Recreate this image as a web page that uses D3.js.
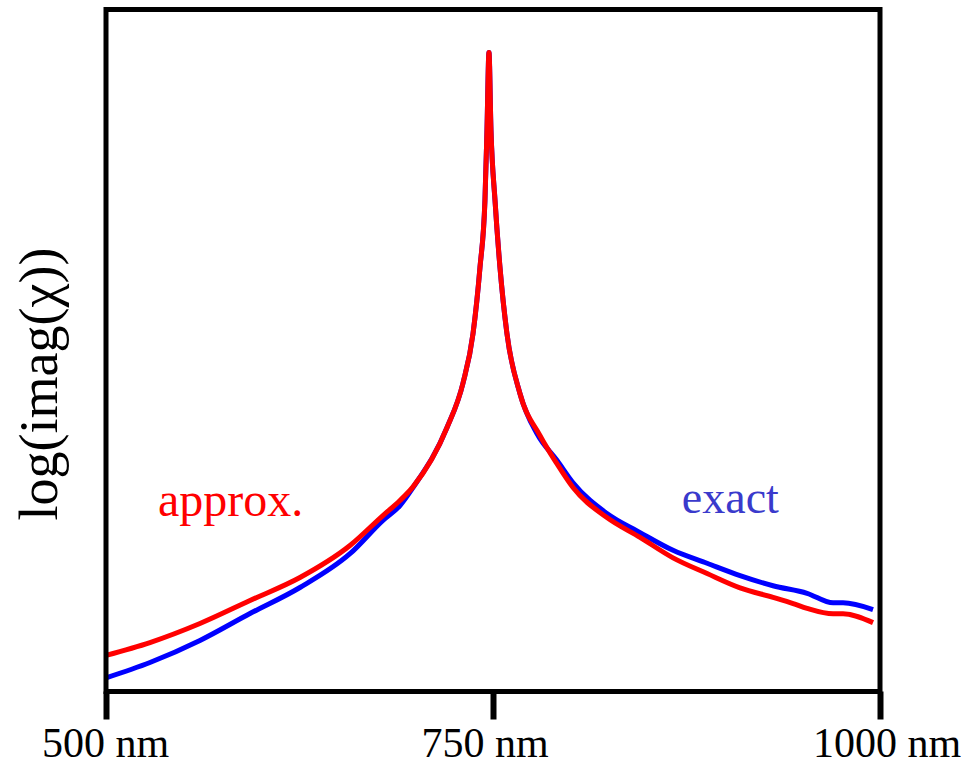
<!DOCTYPE html>
<html>
<head>
<meta charset="utf-8">
<script src="https://cdn.jsdelivr.net/npm/d3@7"></script>
<style>
  body { margin: 0; background: #fff; }
  svg { display: block; font-family: "Liberation Serif", "DejaVu Serif", serif; }
</style>
</head>
<body>
<svg id="chart"></svg>
<script>
// wavelength (nm) and log(imag(chi)) in arbitrary units
const exactX = [500, 528.4, 560.7, 593.0, 625.3, 657.6, 678.9, 689.9, 698.3, 720.3, 730.6, 737.1, 741.6, 744.8, 746.1, 747.4,
                748.7, 751.3, 754.5, 759.0, 767.4, 778.4, 791.3, 801.7, 823.6, 845.0, 866.3, 888.3, 909.6, 930.9, 952.9, 969.7, 976.1, 995.5];
const exactY = [2.0, 4.25, 7.48, 11.43, 15.25, 20.2, 25.1, 27.27, 29.9, 38.7, 45.2, 52.5, 62.2, 72.0, 82.3, 93.7,
                82.3, 72.0, 62.2, 52.5, 43.7, 37.8, 33.9, 30.6, 26.1, 23.3, 20.7, 18.8, 17.0, 15.5, 14.4, 13.0, 13.0, 12.0];

const approxX = [500, 528.4, 560.7, 593.0, 625.3, 657.6, 678.9, 689.9, 698.3, 720.3, 730.6, 737.1, 741.6, 744.8, 746.1, 747.4,
                 748.7, 751.3, 754.5, 759.0, 767.4, 780.4, 791.3, 801.7, 823.6, 845.0, 866.3, 888.3, 909.6, 930.9, 943.9, 952.9, 969.7, 976.1, 995.5];
const approxY = [5.3, 7.18, 9.97, 13.34, 16.71, 21.4, 25.8, 28.0, 30.0, 38.7, 45.2, 52.5, 62.2, 72.0, 82.3, 93.7,
                 82.3, 72.0, 62.2, 52.5, 43.7, 37.5, 33.4, 29.9, 25.5, 22.6, 19.6, 17.3, 15.2, 13.8, 12.9, 12.2, 11.4, 11.4, 10.1];

const tickValues = [500, 750, 1000];
const tickLabels = ["500 nm", "750 nm", "1000 nm"];

const W = 966, H = 763;
const frame = { left: 106, right: 880, top: 9.5, bottom: 691.5 };

const svg = d3.select("#chart").attr("width", W).attr("height", H);

const x = d3.scaleLinear().domain([500, 1000]).range([frame.left, frame.right]);
const y = d3.scaleLinear().domain([0, 100]).range([frame.bottom, frame.top]);

const line = d3.line()
  .x(d => x(d[0]))
  .y(d => y(d[1]))
  .curve(d3.curveMonotoneX);

const exact = exactX.map((v, i) => [v, exactY[i]]);
const approx = approxX.map((v, i) => [v, approxY[i]]);

svg.append("path")
   .datum(exact)
   .attr("fill", "none")
   .attr("stroke", "#0000ff")
   .attr("stroke-width", 5)
   .attr("stroke-linejoin", "round")
   .attr("d", line);

svg.append("path")
   .datum(approx)
   .attr("fill", "none")
   .attr("stroke", "#ff0000")
   .attr("stroke-width", 5)
   .attr("stroke-linejoin", "round")
   .attr("d", line);

// frame
svg.append("rect")
   .attr("x", frame.left)
   .attr("y", frame.top)
   .attr("width", frame.right - frame.left)
   .attr("height", frame.bottom - frame.top)
   .attr("fill", "none")
   .attr("stroke", "#000")
   .attr("stroke-width", 5);

// x axis: ticks hang below the frame
const labelShift = [-1, -8.5, 6.5];
const xAxis = d3.axisBottom(x)
  .tickValues(tickValues)
  .tickSize(28)
  .tickFormat((d, i) => tickLabels[i]);

const ax = svg.append("g")
  .attr("transform", `translate(0,${frame.bottom})`)
  .call(xAxis);

ax.select(".domain").remove();
ax.selectAll(".tick line")
  .attr("stroke", "#000")
  .attr("stroke-width", 6);
ax.selectAll(".tick text")
  .attr("y", 65.5)
  .attr("dy", 0)
  .attr("dx", (d, i) => labelShift[i])
  .attr("fill", "#000")
  .style("font-family", "'Liberation Serif', serif")
  .style("font-size", "42px");

// y label
svg.append("text")
   .attr("transform", "translate(57,384) rotate(-90)")
   .attr("text-anchor", "middle")
   .style("font-size", "54px")
   .text("log(imag(χ))");

// series labels
svg.append("text")
   .attr("x", x(533.6))
   .attr("y", y(25.8))
   .attr("fill", "#ff0000")
   .style("font-size", "48px")
   .text("approx.");

svg.append("text")
   .attr("x", x(872))
   .attr("y", y(26.2))
   .attr("fill", "#3a3acc")
   .style("font-size", "46px")
   .text("exact");
</script>
</body>
</html>
